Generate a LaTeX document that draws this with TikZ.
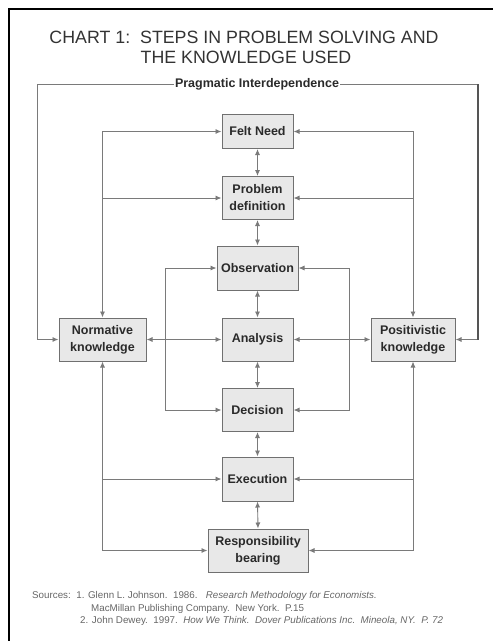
\documentclass[tikz,border=0pt]{standalone}
\usepackage{fontspec}
\setmainfont{Liberation Sans}
\usepackage{tikz}
\usetikzlibrary{arrows.meta}

\definecolor{linegray}{HTML}{7A7A7A}
\definecolor{boxfill}{HTML}{E8E8E8}
\definecolor{boxline}{HTML}{707070}
\definecolor{inkgray}{HTML}{2A2A2A}

\tikzset{
  stepbox/.style={draw=boxline, fill=boxfill, line width=1pt, text=inkgray,
    align=center, minimum width=71pt, minimum height=43pt, inner sep=2pt,
    font=\fontsize{12.5}{17}\selectfont\bfseries},
  link/.style={draw=linegray, line width=0.9pt, >={Latex[length=6pt,width=5pt]}},
}

\begin{document}
\begin{tikzpicture}[x=1pt,y=-1pt]
            \useasboundingbox (0,0) rectangle (493,641);
            \draw[black,line width=1.5pt] (493,9) -- (9,9) -- (9,641); %page frame

            % title
            \node[text=black!80,font=\fontsize{17.8}{20}\selectfont] (title1) at (244,37.5)
                {CHART 1:\ \ STEPS IN PROBLEM SOLVING AND};
            \node[text=black!80,font=\fontsize{17.8}{20}\selectfont] (title2) at (246,57.5)
                {THE KNOWLEDGE USED};

            % steps
            \node[stepbox,minimum height=34pt] (felt) at (257.5,131.5) {Felt Need};
            \node[stepbox] (prob) at (257.5,198) {Problem\\definition};
            \node[stepbox,minimum width=81pt,minimum height=44pt] (obs) at (257.5,268) {Observation};
            \node[stepbox] (ana) at (257.5,339.5) {Analysis};
            \node[stepbox] (dec) at (257.5,410) {Decision};
            \node[stepbox,minimum height=44pt] (exec) at (257.5,479) {Execution};
            \node[stepbox,minimum width=100pt] (resp) at (258,550.5) {Responsibility\\bearing};

            % knowledge
            \node[stepbox,minimum width=87pt] (norm) at (102.5,339.5) {Normative\\knowledge};
            \node[stepbox,minimum width=84pt] (pos) at (413,339.5) {Positivistic\\knowledge};

            % central chain
            \draw[link,<->] (felt.south) -- (prob.north);
            \draw[link,<->] (prob.south) -- (obs.north);
            \draw[link,<->] (obs.south) -- (ana.north);
            \draw[link,<->] (ana.south) -- (dec.north);
            \draw[link,<->] (dec.south) -- (exec.north);
            \draw[link,<->] (exec.south) -- (resp.north);

            % pragmatic loop
            \coordinate (pl) at (37,84);
            \coordinate (pr) at (478,84);
            \draw[link,<->] (norm.west) -| (pl) -- (pr) |- (pos.east);
            \draw[linegray!70!black,line width=1.8pt] (pr) -- (pr |- pos.east);
            \node[fill=white,inner sep=1pt,text=inkgray,font=\fontsize{12.5}{15}\selectfont\bfseries] (prag) at (257,84)
                {Pragmatic Interdependence};

            % normative side
            \draw[link,<->] (norm.north) |- (felt.west);
            \draw[link,->] (norm.north |- prob.west) -- (prob.west);
            \draw[link,<->] (norm.south) |- (resp.west);
            \draw[link,->] (norm.south |- exec.west) -- (exec.west);

            % positivistic side
            \draw[link,<->] (pos.north) |- (felt.east);
            \draw[link,->] (pos.north |- prob.east) -- (prob.east);
            \draw[link,<->] (pos.south) |- (resp.east);
            \draw[link,->] (pos.south |- exec.east) -- (exec.east);

            % analysis links
            \draw[link,<->] (norm.east) -- (ana.west);
            \draw[link,<->] (ana.east) -- (pos.west);

            % observation - decision loops
            \draw[link,<->] (obs.west) -- ++(-51,0) |- (dec.west);
            \draw[link,<->] (obs.east) -- ++(51,0) |- (dec.east);

            % sources
            \node[anchor=west,inner sep=0pt,text=black!60,font=\fontsize{9.8}{11}\selectfont] (src1) at (32,596)
                {Sources:\ \ 1. Glenn L. Johnson.\ \ 1986.\ \ \ \textit{Research Methodology for Economists.}};
            \node[anchor=west,inner sep=0pt,text=black!60,font=\fontsize{9.8}{11}\selectfont] (src2) at (91,608.5)
                {MacMillan Publishing Company.\ \ New York.\ \ P.15};
            \node[anchor=west,inner sep=0pt,text=black!60,font=\fontsize{9.8}{11}\selectfont] (src3) at (80,621)
                {2. John Dewey.\ \ 1997.\ \ \textit{How We Think.\ \ Dover Publications Inc.\ \ Mineola, NY.\ \ P. 72}};
        \end{tikzpicture}
\end{document}
